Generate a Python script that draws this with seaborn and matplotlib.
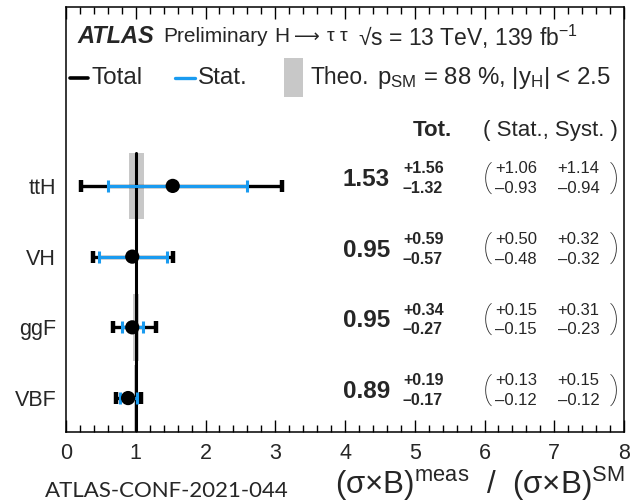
import numpy as np
import pandas as pd
import seaborn as sns
import matplotlib
matplotlib.use("Agg")
import matplotlib.pyplot as plt
from matplotlib.patches import Rectangle
from matplotlib.ticker import MultipleLocator

# ---- data ----
categories = ["ttH", "VH", "ggF", "VBF"]
central = [1.53, 0.95, 0.95, 0.89]
tot_up = [1.56, 0.59, 0.34, 0.19]
tot_dn = [1.32, 0.57, 0.27, 0.17]
stat_up = [1.06, 0.50, 0.15, 0.13]
stat_dn = [0.93, 0.48, 0.15, 0.12]
syst_up = [1.14, 0.32, 0.31, 0.15]
syst_dn = [0.94, 0.32, 0.23, 0.12]
theo_lo = [0.90, 0.99, 0.96, 0.98]
theo_hi = [1.12, 1.01, 1.05, 1.02]
sm_value = 1.0
xticks = [0, 1, 2, 3, 4, 5, 6, 7, 8]

df = pd.DataFrame({
    "cat": categories, "mu": central,
    "tot_up": tot_up, "tot_dn": tot_dn,
    "stat_up": stat_up, "stat_dn": stat_dn,
    "syst_up": syst_up, "syst_dn": syst_dn,
    "theo_lo": theo_lo, "theo_hi": theo_hi,
})
df["y"] = np.arange(len(df))[::-1]

sns.set_theme(style="ticks")
FONT = "Liberation Sans"
plt.rcParams["font.family"] = [FONT, "DejaVu Sans"]
plt.rcParams["mathtext.fontset"] = "custom"
plt.rcParams["mathtext.rm"] = FONT
plt.rcParams["mathtext.it"] = FONT + ":italic"
plt.rcParams["mathtext.bf"] = FONT + ":bold"

fig = plt.figure(figsize=(6.31, 5.03), dpi=100)
ax = fig.add_axes([66 / 631, 1 - 432 / 503, 558 / 631, 425 / 503])

BLUE = "#1a9bf0"
GREY = "#c8c8c8"
half = 0.47

# theory bands
for _, r in df.iterrows():
    ax.add_patch(Rectangle((r.theo_lo, r.y - half), r.theo_hi - r.theo_lo, 2 * half,
                           facecolor=GREY, edgecolor="none", zorder=1))

# SM line
ax.plot([sm_value, sm_value], [-1, df.y.max() + half], color="black", lw=2.2, zorder=2)

# total error bars
ax.errorbar(df.mu, df.y, xerr=[df.tot_dn, df.tot_up], fmt="none", ecolor="black",
            elinewidth=2.4, capsize=4.5, capthick=3.2, zorder=3)
# stat error bars
ax.errorbar(df.mu, df.y, xerr=[df.stat_dn, df.stat_up], fmt="none", ecolor=BLUE,
            elinewidth=2.2, capsize=4.5, capthick=2.2, zorder=4)
# central points
sns.scatterplot(data=df, x="mu", y="y", color="black", s=105, edgecolor="none",
                zorder=5, ax=ax, legend=False)

ax.set_xlim(0, 8)
ax.set_ylim(-0.48, 5.53)
ax.set_xticks(xticks)
ax.set_xticklabels([str(t) for t in xticks])
ax.xaxis.set_minor_locator(MultipleLocator(0.2))
ax.tick_params(axis="x", which="both", direction="in", top=True, bottom=True,
               labelsize=15.5, pad=8, width=1, color="black")
ax.tick_params(axis="x", which="major", length=8.5)
ax.tick_params(axis="x", which="minor", length=5)
ax.set_yticks(df.y)
ax.set_yticklabels(df.cat)
ax.tick_params(axis="y", which="both", length=0, labelsize=15.5, pad=7)
for s in ax.spines.values():
    s.set_visible(True)
    s.set_linewidth(1.1)
    s.set_color("black")
ax.set_xlabel("")
ax.set_ylabel("")

PAREN = dict(family=["Roboto", "DejaVu Sans"], fontweight="light", fontsize=22)

# value texts
for _, r in df.iterrows():
    y = r.y
    ax.text(4.645, y, f"{r.mu:.2f}", ha="right", va="baseline", fontsize=17.5, fontweight="bold")
    ax.text(4.83, y + 0.18, f"+{r.tot_up:.2f}", ha="left", va="baseline", fontsize=11.5, fontweight="bold")
    ax.text(4.83, y - 0.10, f"\u2013{r.tot_dn:.2f}", ha="left", va="baseline", fontsize=11.5, fontweight="bold")
    ax.text(5.97, y + 0.12, "(", ha="left", va="center", **PAREN)
    ax.text(6.15, y + 0.18, f"+{r.stat_up:.2f}", ha="left", va="baseline", fontsize=12)
    ax.text(6.15, y - 0.10, f"\u2013{r.stat_dn:.2f}", ha="left", va="baseline", fontsize=12)
    ax.text(7.05, y + 0.18, f"+{r.syst_up:.2f}", ha="left", va="baseline", fontsize=12)
    ax.text(7.05, y - 0.10, f"\u2013{r.syst_dn:.2f}", ha="left", va="baseline", fontsize=12)
    ax.text(7.80, y + 0.12, ")", ha="left", va="center", **PAREN)

# header
yh = 3.79
ax.text(5.25, yh, "Tot.", ha="center", va="center", fontsize=16, fontweight="bold")
ax.text(5.98, yh, "( Stat., Syst. )", ha="left", va="center", fontsize=16)

# title row
yt = 5.11
ax.text(0.17, yt, "ATLAS", ha="left", va="center", fontsize=17, fontweight="bold", style="italic")
ax.text(1.39, yt, "Preliminary", ha="left", va="center", fontsize=15)
ax.text(2.98, yt, "H", ha="left", va="center", fontsize=15)
ax.text(3.27, yt, "\u27f6", ha="left", va="center", fontsize=13, family=["DejaVu Sans"])
ax.text(3.74, yt, "\u03c4 \u03c4", ha="left", va="center", fontsize=14)
ax.text(4.19, yt, "\u221as = 13 TeV, 139 fb$^{-1}$", ha="left", va="center", fontsize=16.5)

# legend row
yl = 4.53
ax.plot([0.06, 0.31], [yl, yl], color="black", lw=2.6)
ax.text(0.37, yl, "Total", ha="left", va="center", fontsize=17.5)
ax.plot([1.56, 1.85], [yl, yl], color=BLUE, lw=2.4)
ax.text(1.89, yl, "Stat.", ha="left", va="center", fontsize=17.5)
ax.add_patch(Rectangle((3.13, 4.26), 0.27, 0.55, facecolor=GREY, edgecolor="none"))
ax.text(3.50, yl, "Theo.", ha="left", va="center", fontsize=16.5)
ax.text(4.46, yl, "p$_{\\mathrm{SM}}$ = 88 %, |y$_{\\mathrm{H}}$| < 2.5", ha="left", va="center", fontsize=17.3)

# bottom texts
fig.text(45 / 631, 1 - 497 / 503, "ATLAS-CONF-2021-044", ha="left", va="baseline",
         fontsize=16, family=["Lato", "DejaVu Sans"])
fig.text(625 / 631, 1 - 494 / 503,
         "(\u03c3\u00d7B)$^{\\mathrm{meas}}$  /  (\u03c3\u00d7B)$^{\\mathrm{SM}}$",
         ha="right", va="baseline", fontsize=22.5)

fig.savefig("out.png", dpi=100, facecolor="white")
